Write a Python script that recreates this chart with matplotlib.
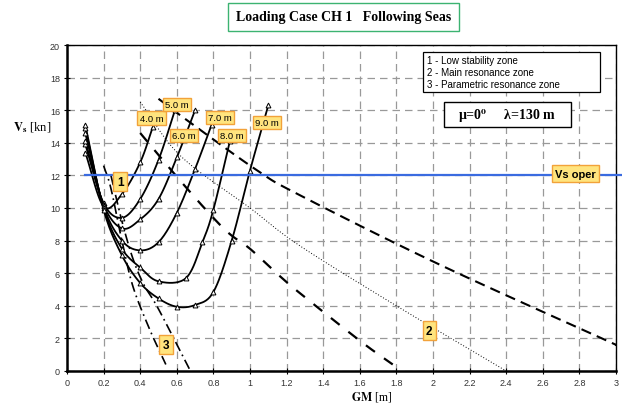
import numpy as np
import matplotlib
matplotlib.use("Agg")
import matplotlib.pyplot as plt
from matplotlib.patches import Rectangle

plt.rcParams['mathtext.fontset'] = 'stix'

# ---------------- data ----------------
wave_labels = ["4.0 m", "5.0 m", "6.0 m", "7.0 m", "8.0 m", "9.0 m"]

gm_4 = [0.1, 0.2, 0.3, 0.4, 0.47]
vs_4 = [13.4, 10.1, 10.85, 12.8, 15.0]
gm_5 = [0.1, 0.2, 0.3, 0.4, 0.5, 0.59]
vs_5 = [13.9, 10.3, 9.4, 10.55, 12.95, 16.0]
gm_6 = [0.1, 0.2, 0.3, 0.4, 0.5, 0.6, 0.7]
vs_6 = [14.1, 10.2, 8.75, 9.3, 10.55, 13.1, 16.0]
gm_7 = [0.1, 0.2, 0.3, 0.4, 0.5, 0.6, 0.7, 0.79]
vs_7 = [14.6, 10.1, 8.0, 7.4, 7.9, 9.7, 12.4, 15.1]
gm_8 = [0.1, 0.2, 0.3, 0.4, 0.5, 0.65, 0.74, 0.8, 0.89]
vs_8 = [14.9, 10.0, 7.5, 6.35, 5.5, 5.7, 7.9, 9.9, 14.1]
gm_9 = [0.1, 0.2, 0.3, 0.4, 0.5, 0.6, 0.7, 0.8, 0.9, 1.0, 1.1]
vs_9 = [15.1, 9.9, 7.1, 5.4, 4.45, 3.94, 4.05, 4.85, 8.0, 12.3, 16.3]

# zone boundary lines
zone2_dot_gm = [0.4, 0.62, 1.0, 1.27, 1.8, 2.4]
zone2_dot_vs = [16.5, 13.2, 10.0, 7.7, 4.0, 0.0]
zone2_upper_gm = [0.5, 0.66, 1.04, 1.27, 2.03, 2.97, 3.0]
zone2_upper_vs = [16.7, 15.35, 12.3, 10.8, 6.56, 1.76, 1.6]
zone2_mid_gm = [0.4, 0.64, 0.86, 1.0, 1.15, 1.27, 1.6, 1.78]
zone2_mid_vs = [14.6, 11.4, 8.7, 7.5, 5.95, 4.8, 1.86, 0.4]
zone3_left_gm = [0.2, 0.24, 0.3, 0.36, 0.45, 0.54]
zone3_left_vs = [12.6, 11.2, 8.0, 5.2, 2.6, 0.4]
zone3_right_gm = [0.24, 0.3, 0.36, 0.42, 0.5, 0.67]
zone3_right_vs = [12.0, 9.2, 6.9, 5.3, 3.8, 0.1]

vs_oper = 12.0

x_ticks = [0, 0.2, 0.4, 0.6, 0.8, 1, 1.2, 1.4, 1.6, 1.8, 2, 2.2, 2.4, 2.6, 2.8, 3]
x_tick_labels = ["0", "0.2", "0.4", "0.6", "0.8", "1", "1.2", "1.4", "1.6", "1.8",
                 "2", "2.2", "2.4", "2.6", "2.8", "3"]
y_ticks = [0, 2, 4, 6, 8, 10, 12, 14, 16, 18, 20]

legend_lines = ["1 - Low stability zone", "2 - Main resonance zone",
                "3 - Parametric resonance zone"]


def smooth(xs, ys, n=20):
    """Catmull-Rom curve through the given points (rendering only)."""
    p = np.column_stack([xs, ys]).astype(float)
    if len(p) < 3:
        return p[:, 0], p[:, 1]
    ext = np.vstack([2 * p[0] - p[1], p, 2 * p[-1] - p[-2]])
    out = []
    t = np.linspace(0, 1, n, endpoint=False)[:, None]
    for i in range(1, len(ext) - 2):
        p0, p1, p2, p3 = ext[i - 1], ext[i], ext[i + 1], ext[i + 2]
        seg = 0.5 * ((2 * p1) + (-p0 + p2) * t + (2 * p0 - 5 * p1 + 4 * p2 - p3) * t ** 2
                     + (-p0 + 3 * p1 - 3 * p2 + p3) * t ** 3)
        out.append(seg)
    out.append(p[-1][None, :])
    out = np.vstack(out)
    return out[:, 0], out[:, 1]


W, H = 622, 410
fig = plt.figure(figsize=(W / 100, H / 100), dpi=100)
L, R, T, B = 67, 616, 46, 372
ax = fig.add_axes([L / W, 1 - B / H, (R - L) / W, (B - T) / H])
ax.set_xlim(0, 3)
ax.set_ylim(0, 20)

ax.set_xticks(x_ticks)
ax.set_xticklabels(x_tick_labels)
ax.set_yticks(y_ticks)
ax.tick_params(labelsize=6.5, labelcolor='#333333', length=4, width=0.8,
               direction='inout', pad=3)
for lab in ax.get_xticklabels() + ax.get_yticklabels():
    lab.set_fontfamily('Liberation Sans')

ax.grid(True, color='#999999', linestyle=(0, (6, 4)), linewidth=0.9)
ax.set_axisbelow(True)
for s in ['left', 'bottom']:
    ax.spines[s].set_linewidth(1.8)
for s in ['right', 'top']:
    ax.spines[s].set_linewidth(1.0)

# speed curves
curves = [(gm_4, vs_4), (gm_5, vs_5), (gm_6, vs_6), (gm_7, vs_7), (gm_8, vs_8), (gm_9, vs_9)]
for gx, vy in curves:
    sx, sy = smooth(gx, vy)
    ax.plot(sx, sy, color='black', lw=1.3, zorder=4)
    ax.plot(gx, vy, linestyle='none', marker='^', ms=3.5, mfc='white', mec='black',
            mew=0.7, zorder=5)

# zone lines
ax.plot(*smooth(zone2_dot_gm, zone2_dot_vs), color='black', lw=0.7,
        linestyle=(0, (1, 2)), zorder=3)
ax.plot(*smooth(zone2_upper_gm, zone2_upper_vs), color='black', lw=1.5,
        linestyle=(0, (5, 3)), zorder=3)
ax.plot(*smooth(zone2_mid_gm, zone2_mid_vs), color='black', lw=1.6,
        linestyle=(0, (5, 5)), zorder=3)
ax.plot(*smooth(zone3_left_gm, zone3_left_vs), color='black', lw=1.2,
        linestyle=(0, (6, 2.5, 1, 2.5)), zorder=3)
ax.plot(*smooth(zone3_right_gm, zone3_right_vs), color='black', lw=1.2,
        linestyle=(0, (6, 2.5, 1, 2.5)), zorder=3)

# operational speed
ax.plot([0.1, 3.03], [vs_oper, vs_oper], color='#3A6BE0', lw=1.6, zorder=6,
        clip_on=False)

ybox = dict(boxstyle='square,pad=0.25', fc='#FFE47E', ec='#F2A23A', lw=1.0)
label_pos = [(0.462, 15.5), (0.60, 16.35), (0.64, 14.45), (0.836, 15.55),
             (0.903, 14.45), (1.094, 15.25)]
for txt, (lx, ly) in zip(wave_labels, label_pos):
    ax.text(lx, ly, txt, fontsize=6.8, family='Liberation Sans', ha='center',
            va='center', bbox=ybox, zorder=8)

zbox = dict(boxstyle='square,pad=0.3', fc='#FFE47E', ec='#F2A23A', lw=1.0)
for txt, (lx, ly) in zip(["1", "2", "3"], [(0.29, 11.6), (1.98, 2.47), (0.54, 1.6)]):
    ax.text(lx, ly, txt, fontsize=8.5, fontweight='bold', family='Liberation Sans',
            ha='center', va='center', bbox=zbox, zorder=8)
ax.text(2.78, 12.1, "Vs oper", fontsize=8, fontweight='bold', family='Liberation Sans',
        ha='center', va='center', bbox=zbox, zorder=8)


# legend box (figure pixels)
def fx(px):
    return px / W


def fy(py):
    return 1 - py / H


fig.patches.append(Rectangle((fx(423), fy(92.5)), (599.5 - 423) / W, (92.5 - 53.3) / H,
                             transform=fig.transFigure, fc='white', ec='black', lw=0.9,
                             zorder=10))
for i, line in enumerate(legend_lines):
    fig.text(fx(427), fy(61.5 + 12 * i), line, fontsize=7, family='Liberation Sans',
             va='center', ha='left', zorder=11)

fig.patches.append(Rectangle((fx(443.5), fy(127.5)), (570.7 - 443.5) / W, (127.5 - 103.3) / H,
                             transform=fig.transFigure, fc='white', ec='black', lw=1.0,
                             zorder=10))
fig.text(fx(507), fy(115.5), r'μ=0$^\mathbf{o}$     λ=130 m', fontsize=10, fontweight='bold',
         family='Liberation Serif', ha='center', va='center', zorder=11)

# title
fig.text(fx(343.5), fy(18), "Loading Case CH 1   Following Seas", fontsize=10,
         fontweight='bold', family='Liberation Serif', ha='center', va='center',
         bbox=dict(boxstyle='square,pad=0.55', fc='white', ec='#3CB371', lw=1.0))

# axis labels
fig.text(fx(372), fy(397), r'$\mathbf{GM}$ [m]', fontsize=8.5, family='Liberation Serif',
         ha='center', va='center')
fig.text(fx(32), fy(128), r'$\mathbf{V}_\mathbf{s}$ [kn]', fontsize=9,
         family='Liberation Serif', ha='center', va='center')

fig.savefig("out.png", dpi=100)
